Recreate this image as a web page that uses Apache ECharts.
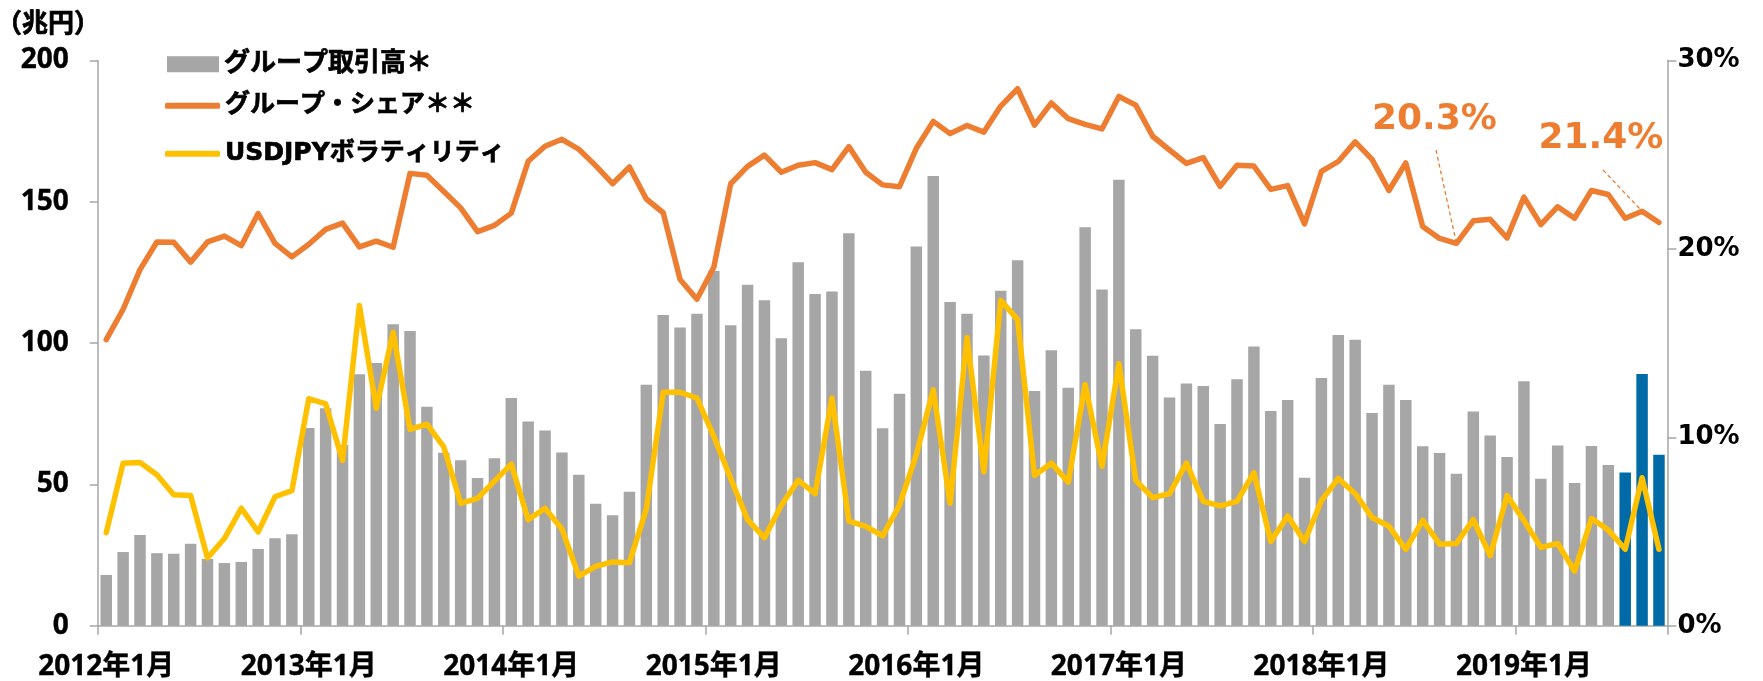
<!DOCTYPE html>
<html>
<head>
<meta charset="utf-8">
<script src="https://cdn.jsdelivr.net/npm/echarts@6/dist/echarts.min.js"></script>
<style>
  html, body { margin: 0; padding: 0; background: #ffffff; }
  #chart { width: 1763px; height: 681px; }
</style>
</head>
<body>
<div id="chart"></div>
<script>
// ---- data ----
const startYear = 2012;
const seriesNames = ['グループ取引高＊', 'グループ・シェア＊＊', 'USDJPYボラティリティ'];
const unitLabel = '（兆円）';

// monthly group trading volume (兆円), Jan 2012 .. Sep 2019
const volumes = [
  18.0, 26.1, 32.1, 25.7, 25.5, 29.0, 23.6, 22.2, 22.6, 27.2, 31.0, 32.4,
  70.0, 77.0, 64.0, 89.0, 93.0, 106.7, 104.3, 77.5, 61.2, 58.6, 52.3, 59.3,
  80.6, 72.3, 69.1, 61.3, 53.4, 43.2, 39.1, 47.4, 85.3, 110.0, 105.5, 110.4,
  125.5, 106.3, 120.7, 115.2, 101.7, 128.6, 117.4, 118.3, 138.9, 90.2, 69.9, 82.1,
  134.2, 159.1, 114.6, 110.4, 95.6, 118.5, 129.3, 83.1, 97.5, 84.2, 141.0, 119.0,
  157.8, 104.9, 95.5, 80.8, 85.7, 84.8, 71.4, 87.2, 98.8, 76.0, 79.9, 52.4,
  87.7, 102.9, 101.2, 75.3, 85.3, 79.9, 63.5, 61.1, 53.8, 75.8, 67.3, 59.7,
  86.5, 52.0, 63.8, 50.5, 63.6, 56.9, 54.2, 89.1, 60.5
];
// number of most recent months highlighted in blue
const recentCount = 3;

// group share (%)
const share = [
  15.19, 16.8, 18.9, 20.37, 20.35, 19.3, 20.37, 20.68, 20.17, 21.88, 20.29, 19.58,
  20.25, 21.04, 21.37, 20.11, 20.41, 20.09, 24.01, 23.91, 23.05, 22.18, 20.92, 21.25,
  21.9, 24.65, 25.45, 25.82, 25.29, 24.42, 23.46, 24.35, 22.65, 21.92, 18.38, 17.33,
  19.03, 23.46, 24.38, 24.98, 24.07, 24.44, 24.58, 24.21, 25.43, 24.07, 23.4, 23.3,
  25.34, 26.77, 26.12, 26.55, 26.2, 27.58, 28.5, 26.57, 27.75, 26.91, 26.61, 26.37,
  28.09, 27.63, 25.98, 25.25, 24.54, 24.84, 23.32, 24.44, 24.4, 23.16, 23.36, 21.33,
  24.11, 24.64, 25.68, 24.75, 23.1, 24.56, 21.19, 20.56, 20.3, 21.49, 21.57, 20.58,
  22.75, 21.29, 22.24, 21.63, 23.1, 22.89, 21.63, 22.0, 21.4
];

// USDJPY volatility (%)
const volatility = [
  4.94, 8.63, 8.67, 8.02, 6.95, 6.91, 3.6, 4.63, 6.24, 4.98, 6.85, 7.17,
  12.05, 11.78, 8.78, 17.0, 11.54, 15.58, 10.42, 10.7, 9.49, 6.5, 6.76, 7.68,
  8.58, 5.63, 6.24, 5.14, 2.64, 3.15, 3.39, 3.35, 6.2, 12.39, 12.39, 12.09,
  10.05, 7.82, 5.63, 4.67, 6.4, 7.72, 7.01, 12.09, 5.55, 5.28, 4.77, 6.4,
  9.08, 12.53, 6.5, 15.3, 8.17, 17.27, 16.25, 7.98, 8.63, 7.62, 12.8, 8.47,
  13.91, 7.72, 6.8, 7.01, 8.63, 6.6, 6.36, 6.6, 8.13, 4.47, 5.83, 4.47,
  6.64, 7.82, 7.01, 5.75, 5.28, 4.06, 5.59, 4.33, 4.37, 5.63, 3.72, 6.91,
  5.59, 4.16, 4.37, 2.9, 5.69, 5.08, 4.06, 7.86, 4.06
];

// annotated share points: [label point index, leader target index]
const annotations = [[80, 80], [92, 91]];

// category labels: 2012年1月 ...
const categories = [];
for (let i = 0; i < volumes.length; i++) {
  categories.push((startYear + Math.floor(i / 12)) + '年' + (i % 12 + 1) + '月');
}

// ---- styles ----
const GRAY = '#A6A6A6';
const BLUE = '#006BA6';
const ORANGE = '#ED7D31';
const YELLOW = '#FFC000';
const AXIS = '#A6A6A6';
const JP = '"Noto Sans", "Noto Sans CJK JP", sans-serif';
const WIDE = '"DejaVu Sans", "Noto Sans CJK JP", sans-serif';

const labelOffsets = [[-22, -124], [-58, -84]];
const leaderStarts = [[1436, 150], [1603, 170]];

const chart = echarts.init(document.getElementById('chart'), null, { renderer: 'canvas' });

const heavy = { textBorderColor: '#000', textBorderWidth: 0.7 };
const legendText = Object.assign({ fontFamily: WIDE, fontSize: 25, fontWeight: 'bold', color: '#000' }, heavy);

chart.setOption({
  animation: false,
  backgroundColor: '#ffffff',
  title: {
    text: unitLabel, left: -4, top: 9, padding: 0,
    textStyle: Object.assign({ fontFamily: '"Noto Sans CJK JP", sans-serif', fontSize: 26, fontWeight: 'bold', color: '#000' }, heavy)
  },
  legend: [
    { data: [seriesNames[0]], left: 167, top: 51, padding: 0, icon: 'rect',
      itemWidth: 52, itemHeight: 16, textStyle: Object.assign({}, legendText, { fontSize: 26 }), selectedMode: false },
    { data: [seriesNames[1]], left: 165, top: 93, padding: 0, icon: 'roundRect',
      itemWidth: 55, itemHeight: 6, textStyle: legendText, selectedMode: false },
    { data: [seriesNames[2]], left: 165, top: 141, padding: 0, icon: 'roundRect',
      itemWidth: 55, itemHeight: 6, textStyle: legendText, selectedMode: false }
  ],
  grid: { left: 97.8, right: 95.6, top: 60.5, bottom: 54, containLabel: false },
  xAxis: {
    type: 'category',
    data: categories,
    boundaryGap: true,
    axisLine: { show: true, lineStyle: { color: AXIS, width: 1.5 } },
    axisTick: { show: true, interval: 11, length: 9, lineStyle: { color: AXIS, width: 1.5 } },
    axisLabel: Object.assign({ interval: 11, margin: 27, fontFamily: JP, fontSize: 28, fontWeight: 'bold', color: '#000' },
      { textBorderColor: '#000', textBorderWidth: 0.4 }),
    splitLine: { show: false }
  },
  yAxis: [
    {
      type: 'value', min: 0, max: 200, interval: 50, position: 'left',
      axisLine: { show: true, lineStyle: { color: AXIS, width: 1.5 } },
      axisTick: { show: true, length: 8, lineStyle: { color: AXIS, width: 1.5 } },
      axisLabel: { margin: 29, fontFamily: JP, fontSize: 28, fontWeight: 'bold', color: '#000',
        textBorderColor: '#000', textBorderWidth: 0.4 },
      splitLine: { show: false }
    },
    {
      type: 'value', min: 0, max: 30, interval: 10, position: 'right',
      axisLine: { show: true, lineStyle: { color: AXIS, width: 1.5 } },
      axisTick: { show: true, length: 9, lineStyle: { color: AXIS, width: 1.5 } },
      axisLabel: { margin: 10, formatter: '{value}%', fontFamily: WIDE, fontSize: 26, fontWeight: 'bold', color: '#000' },
      splitLine: { show: false }
    }
  ],
  series: [
    {
      name: seriesNames[0],
      type: 'bar',
      yAxisIndex: 0,
      data: volumes,
      barCategoryGap: '32%',
      color: GRAY,
      itemStyle: {
        color: (p) => (p.dataIndex >= volumes.length - recentCount ? BLUE : GRAY)
      },
      z: 1
    },
    {
      name: seriesNames[1],
      type: 'line',
      yAxisIndex: 1,
      data: share,
      color: ORANGE,
      showSymbol: false,
      symbol: 'none',
      lineStyle: { color: ORANGE, width: 5.5, join: 'round', cap: 'round' },
      itemStyle: { color: ORANGE },
      z: 3,
      markPoint: {
        silent: true,
        symbol: 'circle',
        symbolSize: 1,
        itemStyle: { color: 'rgba(0,0,0,0)' },
        label: {
          show: true, position: 'inside',
          formatter: (p) => p.value.toFixed(1) + '%',
          fontFamily: '"DejaVu Sans", sans-serif', fontSize: 36, fontWeight: 'bold', color: ORANGE
        },
        data: annotations.map((a, k) => ({
          coord: [categories[a[0]], share[a[0]]],
          value: share[a[0]],
          label: { offset: labelOffsets[k] }
        }))
      },
      markLine: {
        silent: true,
        symbol: ['none', 'none'],
        label: { show: false },
        lineStyle: { color: ORANGE, width: 1.3, type: [4, 3] },
        data: annotations.map((a, k) => [
          { x: leaderStarts[k][0], y: leaderStarts[k][1] },
          { coord: [categories[a[1]], share[a[1]]] }
        ])
      }
    },
    {
      name: seriesNames[2],
      type: 'line',
      yAxisIndex: 1,
      data: volatility,
      color: YELLOW,
      showSymbol: false,
      symbol: 'none',
      lineStyle: { color: YELLOW, width: 5.5, join: 'round', cap: 'round' },
      itemStyle: { color: YELLOW },
      z: 4
    }
  ]
});
</script>
</body>
</html>
